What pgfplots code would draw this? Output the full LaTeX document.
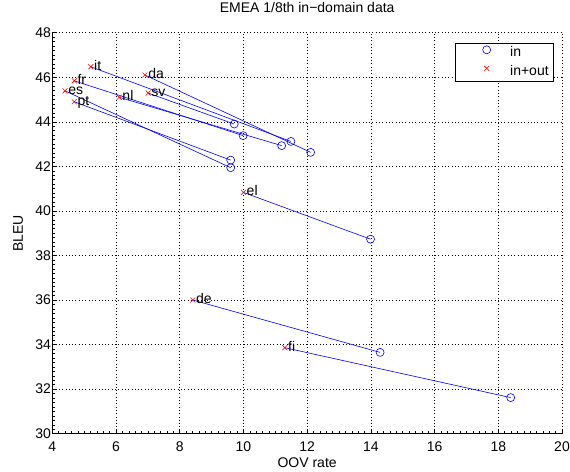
\documentclass[border=0pt]{standalone}
\usepackage{fontspec}
\setmainfont{Liberation Sans}
\usepackage{pgfplots}
\pgfplotsset{compat=1.18}
\usepackage{pgfplotstable}

\newcommand\fsz{\fontsize{14bp}{16bp}\selectfont}

% BLEU vs OOV rate, "in" = in-domain only, "in+out" = with out-of-domain data
\pgfplotstableread{
oov   bleu   lang
5.21  46.47  it
4.69  45.84  fr
4.40  45.39  es
4.69  44.90  pt
6.91  46.10  da
7.01  45.29  sv
6.10  45.10  nl
10.00 40.83  el
8.41  36.00  de
11.30 33.86  fi
}\inout

\pgfplotstableread{
oov   bleu   lang
11.49 43.12  it
9.99  43.38  fr
9.60  41.94  es
9.60  42.28  pt
12.11 42.63  da
9.71  43.90  sv
11.20 42.93  nl
13.99 38.73  el
14.29 33.65  de
18.39 31.62  fi
}\indom

\begin{document}
\begin{tikzpicture}
\begin{axis}[
    scale only axis,
    width=509.7bp, height=401bp,
    xmin=4, xmax=20, ymin=30, ymax=48,
    xtick={4,6,...,20}, ytick={30,32,...,48},
    minor x tick num=9, minor y tick num=9,
    axis x line=bottom, axis y line=left,
    axis line style={-, black, line width=0.6bp},
    tick align=inside,
    major tick length=5bp, minor tick length=2.5bp,
    tick style={black, line width=0.5bp},
    grid=major,
    major grid style={black, line width=0.5bp, dash pattern=on 0.7bp off 2.6bp},
    /pgf/number format/assume math mode=true,
    xticklabel style={font=\fsz, yshift=-4.5bp},
    yticklabel style={font=\fsz, xshift=2.2bp},
    title={EMEA 1/8th in−domain data},
    title style={at={(axis description cs:0.5,1.0357)}, anchor=base, font=\fsz},
    xlabel={OOV rate},
    xlabel style={at={(axis description cs:0.5,-0.0843)}, anchor=base, font=\fsz},
    ylabel={BLEU},
    ylabel style={at={(axis description cs:-0.0579,0.5)}, anchor=base, font=\fsz},
    legend style={at={(axis description cs:1,1)}, xshift=-8bp, yshift=-10.8bp,
        anchor=north east, draw=black, line width=0.6bp, fill=white,
        inner xsep=3bp, inner ysep=2bp, row sep=3.5bp, column sep=8.5bp,
        font=\fsz, nodes={inner ysep=1.5bp, text height=9.5bp, text depth=2.5bp}},
    legend cell align=left,
    legend image code/.code={
        \path[draw=none] (0bp,0bp) -- (41bp,0bp);
        \draw[#1] plot coordinates {(28bp,3.5bp)};
    },
]
% one segment per language
\addplot[blue, line width=0.6bp, forget plot] coordinates {(5.21,46.47) (11.49,43.12)};
\addplot[blue, line width=0.6bp, forget plot] coordinates {(4.69,45.84) (9.99,43.38)};
\addplot[blue, line width=0.6bp, forget plot] coordinates {(4.40,45.39) (9.60,41.94)};
\addplot[blue, line width=0.6bp, forget plot] coordinates {(4.69,44.90) (9.60,42.28)};
\addplot[blue, line width=0.6bp, forget plot] coordinates {(6.91,46.10) (12.11,42.63)};
\addplot[blue, line width=0.6bp, forget plot] coordinates {(7.01,45.29) (9.71,43.90)};
\addplot[blue, line width=0.6bp, forget plot] coordinates {(6.10,45.10) (11.20,42.93)};
\addplot[blue, line width=0.6bp, forget plot] coordinates {(10.00,40.83) (13.99,38.73)};
\addplot[blue, line width=0.6bp, forget plot] coordinates {(8.41,36.00) (14.29,33.65)};
\addplot[blue, line width=0.6bp, forget plot] coordinates {(11.30,33.86) (18.39,31.62)};

\addplot[only marks, blue, mark=o, mark size=4bp,
    mark options={line width=0.6bp}] table[x=oov, y=bleu] {\indom};
\addlegendentry{in}

\addplot[only marks, red, mark=x, mark size=3.5bp,
    mark options={line width=0.6bp},
    nodes near coords, point meta=explicit symbolic,
    nodes near coords align={anchor=base west},
    every node near coord/.append style={black, font=\fsz, anchor=base west,
        inner sep=0pt, xshift=3bp, yshift=-3.5bp}]
    table[x=oov, y=bleu, meta=lang] {\inout};
\addlegendentry{in+out}
\end{axis}
\pgfresetboundingbox
\path[use as bounding box] (-52.3bp,-38.3bp) rectangle (517.7bp,433.7bp);
\end{tikzpicture}
\end{document}
